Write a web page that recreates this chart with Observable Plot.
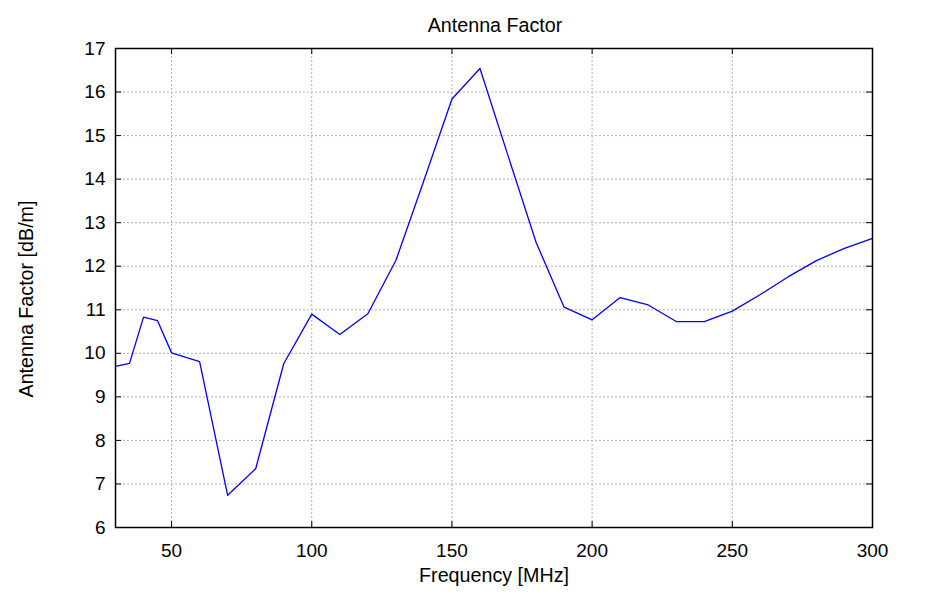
<!DOCTYPE html>
<html>
<head>
<meta charset="utf-8">
<script src="https://cdn.jsdelivr.net/npm/d3@7"></script>
<script src="https://cdn.jsdelivr.net/npm/@observablehq/plot@0.6"></script>
<style>
  html, body { margin: 0; padding: 0; background: #fff; }
  #chart svg { display: block; }
</style>
</head>
<body>
<div id="chart"></div>
<script>
const freq = [30, 35, 40, 45, 50, 60, 70, 80, 90, 100, 110, 120, 130, 140, 150, 160, 170, 180, 190, 200, 210, 220, 230, 240, 250, 260, 270, 280, 290, 300];
const factor = [9.70, 9.77, 10.83, 10.75, 10.01, 9.81, 6.74, 7.35, 9.76, 10.90, 10.43, 10.91, 12.13, 13.97, 15.84, 16.54, 14.54, 12.55, 11.06, 10.77, 11.28, 11.11, 10.73, 10.73, 10.97, 11.35, 11.76, 12.13, 12.41, 12.64];
const xTicks = [50, 100, 150, 200, 250, 300];
const yTicks = [6, 7, 8, 9, 10, 11, 12, 13, 14, 15, 16, 17];
const title = "Antenna Factor";
const xLabel = "Frequency [MHz]";
const yLabel = "Antenna Factor [dB/m]";

const data = freq.map((f, i) => ({f, v: factor[i]}));

const W = 947, H = 602;
const mL = 115, mR = 75, mT = 48, mB = 75;
const pw = W - mL - mR, ph = H - mT - mB;
const fsTick = 19;
const fsLab = 19.7;
const font = "'Liberation Sans', Arial, sans-serif";

const chart = Plot.plot({
  width: W,
  height: H,
  marginLeft: mL,
  marginRight: mR,
  marginTop: mT,
  marginBottom: mB,
  style: {fontFamily: font, fontSize: fsTick + "px", color: "#000", background: "#fff"},
  x: {domain: [30, 300], label: null},
  y: {domain: [6, 17], label: null},
  marks: [
    Plot.gridX(xTicks, {stroke: "#b4b4b4", strokeOpacity: 1, strokeDasharray: "2,2"}),
    Plot.gridY(yTicks, {stroke: "#b4b4b4", strokeOpacity: 1, strokeDasharray: "2,2"}),
    Plot.axisX(xTicks, {tickSize: 0, tickPadding: 16, fontSize: fsTick, label: null}),
    Plot.axisY(yTicks, {tickSize: 0, tickPadding: 10, fontSize: fsTick, label: null}),
    Plot.tickX(xTicks, {x: d => d, insetTop: ph - 6, stroke: "#000"}),
    Plot.tickX(xTicks, {x: d => d, insetBottom: ph - 6, stroke: "#000"}),
    Plot.tickY(yTicks, {y: d => d, insetRight: pw - 6, stroke: "#000"}),
    Plot.tickY(yTicks, {y: d => d, insetLeft: pw - 6, stroke: "#000"}),
    Plot.line(data, {x: "f", y: "v", stroke: "#0000ff", strokeWidth: 1.3}),
    Plot.frame({stroke: "#000", strokeWidth: 1.5}),
    Plot.text([title], {frameAnchor: "top", lineAnchor: "middle", textAnchor: "middle", dx: 1, dy: -23, fontSize: fsLab, fill: "#000"}),
    Plot.text([xLabel], {frameAnchor: "bottom", lineAnchor: "middle", textAnchor: "middle", dy: 48, fontSize: fsLab, fill: "#000"}),
    Plot.text([yLabel], {frameAnchor: "left", lineAnchor: "middle", textAnchor: "middle", dx: -89, dy: 11, rotate: -90, fontSize: fsLab, fill: "#000"})
  ]
});
document.getElementById("chart").appendChild(chart);
</script>
</body>
</html>
